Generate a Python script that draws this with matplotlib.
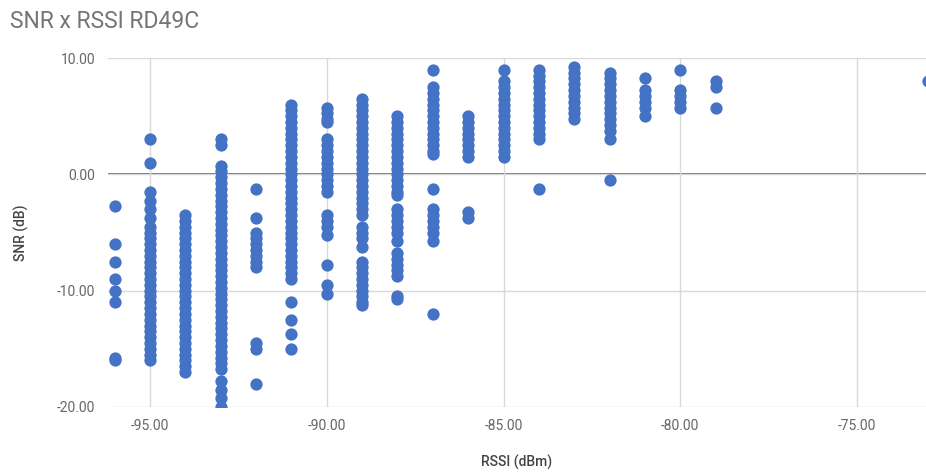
import matplotlib.pyplot as plt

plt.rcParams['font.family'] = ['Roboto', 'DejaVu Sans']

# SNR readings (dB) grouped by the RSSI level (dBm) they were taken at
snr_m96 = [-2.75, -6.0, -7.5, -9.0, -10.0, -11.0, -15.75, -16.0]
snr_m95 = [3.0, 1.0, -1.5, -2.25, -3.0, -3.75, -4.5, -5.0, -5.5, -6.0, -6.5, -7.0,
           -7.5, -8.0, -8.5, -9.0, -9.5, -10.0, -10.5, -11.0, -11.5, -12.0, -12.5,
           -13.0, -13.5, -14.0, -14.5, -15.0, -15.5, -16.0]
snr_m94 = [-3.5, -4.0, -4.5, -5.0, -5.5, -6.0, -6.5, -7.0, -7.5, -8.0, -8.5, -9.0,
           -9.5, -10.0, -10.5, -11.0, -11.5, -12.0, -12.5, -13.0, -13.5, -14.0,
           -14.5, -15.0, -15.5, -16.0, -16.5, -17.0]
snr_m93 = [3.0, 2.5, 0.75, 0.25, -0.25, -0.75, -1.25, -1.75, -2.25, -2.75, -3.25,
           -3.75, -4.25, -4.75, -5.25, -5.75, -6.25, -6.75, -7.25, -7.75, -8.25,
           -8.75, -9.25, -9.75, -10.25, -10.75, -11.25, -11.75, -12.25, -12.75,
           -13.25, -13.75, -14.25, -14.75, -15.25, -15.75, -16.25, -16.75, -17.75,
           -18.5, -19.25, -20.0]
snr_m92 = [-1.25, -3.75, -5.0, -5.5, -6.0, -6.5, -7.0, -7.5, -8.0, -14.5, -15.0, -18.0]
snr_m91 = [6.0, 5.5, 5.0, 4.5, 4.0, 3.5, 3.0, 2.5, 2.0, 1.5, 1.0, 0.5, 0.0, -0.5,
           -1.0, -1.5, -2.0, -2.5, -3.0, -3.5, -4.0, -4.5, -5.0, -5.5, -6.0, -6.5,
           -7.0, -7.5, -8.0, -8.5, -9.0, -11.0, -12.5, -13.75, -15.0]
snr_m90 = [5.75, 5.25, 4.75, 4.5, 3.0, 2.5, 2.0, 1.5, 1.0, 0.5, 0.0, -0.5, -1.0,
           -1.5, -3.5, -4.0, -4.5, -5.25, -7.75, -9.5, -10.25]
snr_m89 = [6.5, 6.0, 5.5, 5.0, 4.5, 4.0, 3.5, 3.0, 2.5, 2.0, 1.5, 1.0, 0.5, 0.0,
           -0.5, -1.0, -1.5, -2.0, -2.5, -3.0, -3.5, -4.5, -5.0, -5.5, -6.25, -7.5,
           -8.0, -8.5, -9.0, -9.5, -10.0, -10.5, -11.0, -11.25]
snr_m88 = [5.0, 4.5, 4.0, 3.5, 3.0, 2.5, 2.0, 1.5, 1.0, 0.5, 0.0, -0.5, -1.0, -1.5,
           -1.75, -3.0, -3.5, -4.0, -4.5, -5.0, -5.75, -6.75, -7.25, -7.75, -8.25,
           -8.75, -10.5, -10.75]
snr_m87 = [9.0, 7.5, 7.0, 6.5, 6.0, 5.5, 5.0, 4.5, 4.0, 3.5, 3.0, 2.5, 2.0, 1.75,
           -1.25, -3.0, -3.5, -4.0, -4.5, -5.0, -5.75, -12.0]
snr_m86 = [5.0, 4.5, 4.0, 3.5, 3.0, 2.5, 2.0, 1.5, -3.25, -3.75]
snr_m85 = [9.0, 8.0, 7.5, 7.0, 6.5, 6.0, 5.5, 5.0, 4.5, 4.0, 3.5, 3.0, 2.5, 2.0, 1.5]
snr_m84 = [9.0, 8.5, 8.0, 7.5, 7.0, 6.5, 6.0, 5.5, 5.0, 4.5, 4.0, 3.5, 3.0, -1.25]
snr_m83 = [9.25, 8.75, 8.25, 7.75, 7.25, 6.75, 6.25, 5.75, 5.25, 4.75]
snr_m82 = [8.75, 8.25, 7.75, 7.25, 6.75, 6.25, 5.75, 5.25, 4.75, 4.25, 3.75, 3.0, -0.5]
snr_m81 = [8.25, 7.25, 6.75, 6.25, 5.75, 5.0]
snr_m80 = [9.0, 7.25, 6.75, 6.25, 5.75]
snr_m79 = [8.0, 7.5, 5.75]
snr_m73 = [8.0]

rssi_levels = [-96, -95, -94, -93, -92, -91, -90, -89, -88, -87, -86, -85,
               -84, -83, -82, -81, -80, -79, -73]
snr_columns = [snr_m96, snr_m95, snr_m94, snr_m93, snr_m92, snr_m91, snr_m90,
               snr_m89, snr_m88, snr_m87, snr_m86, snr_m85, snr_m84, snr_m83,
               snr_m82, snr_m81, snr_m80, snr_m79, snr_m73]

x_ticks = [-95, -90, -85, -80, -75]
y_ticks = [-20, -10, 0, 10]

rssi = []
snr = []
for level, col in zip(rssi_levels, snr_columns):
    rssi += [level] * len(col)
    snr += col

fig = plt.figure(figsize=(9.26, 4.76), dpi=100)
ax = fig.add_axes([0.1166, 0.145, 0.8834, 0.733])

ax.scatter(rssi, snr, s=78, color='#4472c4', linewidths=0, zorder=3)

ax.set_xlim(-96.19, -73.05)
ax.set_ylim(-20, 10)
ax.set_xticks(x_ticks)
ax.set_yticks(y_ticks)
ax.set_xticklabels(['%.2f' % v for v in x_ticks])
ax.set_yticklabels(['%.2f' % v for v in y_ticks])

ax.grid(True, color='#d9d9d9', linewidth=1, zorder=0)
ax.axhline(0, color='#6e6e6e', linewidth=1.4, zorder=1)
for side in ax.spines.values():
    side.set_visible(False)
ax.tick_params(length=0, labelsize=10, labelcolor='#666666', pad=9)

ax.set_xlabel('RSSI (dBm)', fontsize=10, color='#444444', fontweight='medium', labelpad=15)
ax.set_ylabel('SNR (dB)', fontsize=10, color='#444444', fontweight='medium', labelpad=20)

fig.text(0.011, 0.955, 'SNR x RSSI RD49C', fontsize=16.5, color='#757575', va='center')

fig.savefig('out.png', dpi=100)
